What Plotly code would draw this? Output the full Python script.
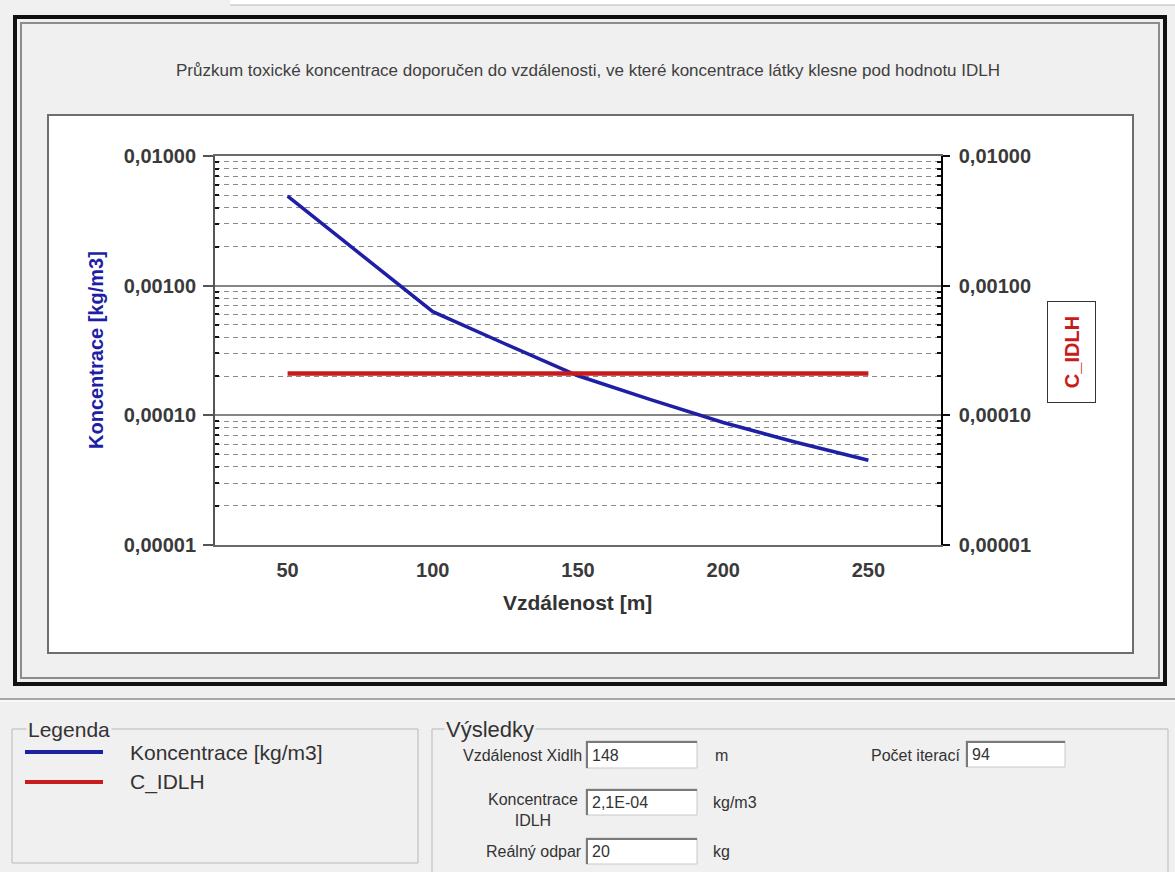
import plotly.graph_objects as go

# ---- data -------------------------------------------------------------
distance_m = [50, 100, 125, 150, 175, 200, 225, 250]
koncentrace = [4.9e-3, 6.3e-4, 3.55e-4, 2.02e-4, 1.32e-4, 8.8e-5, 6.2e-5, 4.5e-5]

idlh_x = [50, 250]
c_idlh = 2.1e-4

y_tick_vals = [1e-5, 1e-4, 1e-3, 1e-2]
y_tick_text = ["0,00001", "0,00010", "0,00100", "0,01000"]
x_tick_vals = [50, 100, 150, 200, 250]
x_tick_text = ["50", "100", "150", "200", "250"]

result_labels = ["Vzdálenost Xidlh", "Počet iterací", "Koncentrace<br>IDLH", "Reálný odpar"]
result_values = ["148", "94", "2,1E-04", "20"]
result_units = ["m", "", "kg/m3", "kg"]

# minor log grid: 2..9 within each decade
minor_vals = [m * 10.0 ** e for e in (-5, -4, -3) for m in range(2, 10)]

# ---- page geometry (pixels) ------------------------------------------
W, H = 1175, 872
L, R, T, B = 215, 941, 156, 545
BG = "#f0f0f0"
FONT = "Liberation Sans"


def px(x):
    return (x - L) / (R - L)


def py(y):
    return (B - y) / (B - T)


def rect(x0, y0, x1, y1, line="#000", width=1, fill=None):
    d = dict(type="rect", xref="paper", yref="paper",
             x0=px(x0), x1=px(x1), y0=py(y1), y1=py(y0),
             line=dict(color=line, width=width), layer="below")
    if fill:
        d["fillcolor"] = fill
    return d


def hline(x0, x1, y, color, width):
    return dict(type="line", xref="paper", yref="paper",
                x0=px(x0), x1=px(x1), y0=py(y), y1=py(y),
                line=dict(color=color, width=width), layer="below")


def vline(x, y0, y1, color, width):
    return dict(type="line", xref="paper", yref="paper",
                x0=px(x), x1=px(x), y0=py(y0), y1=py(y1),
                line=dict(color=color, width=width), layer="below")


def text(x, y, s, size=16, color="#333", xanchor="left", bold=False,
         angle=0, **kw):
    return dict(xref="paper", yref="paper", x=px(x), y=py(y), text=s,
                showarrow=False, xanchor=xanchor, yanchor="middle",
                textangle=angle,
                font=dict(family=FONT, size=size, color=color,
                          weight="bold" if bold else "normal"), **kw)


fig = go.Figure()

fig.add_trace(go.Scatter(
    x=distance_m, y=koncentrace, mode="lines", name="Koncentrace [kg/m3]",
    line=dict(color="#1f1fa6", width=3.5), showlegend=False, yaxis="y"))
fig.add_trace(go.Scatter(
    x=idlh_x, y=[c_idlh] * len(idlh_x), mode="lines", name="C_IDLH",
    line=dict(color="#c81c1c", width=4.5), showlegend=False, yaxis="y2"))

shapes = [
    # window strip at the top
    rect(230, -2, 1180, 5, line="rgba(0,0,0,0)", width=0, fill="#ffffff"),
    hline(230, 1175, 5, "#b8b8b8", 1),
    # outer frame
    rect(15, 17, 1165, 684, line="#111", width=4),
    rect(21, 23, 1159, 678, line="#8c8c8c", width=2),
    # white chart panel
    rect(48, 115, 1133, 653, line="#6e6e6e", width=2, fill="#ffffff"),
    # separator below frame
    hline(0, 1175, 699, "#a8a8a8", 2),
    hline(0, 1175, 701, "#ffffff", 1),
    # group boxes
    rect(12, 729, 418, 863, line="#b9b9b9", width=1),
    rect(432, 729, 1168, 884, line="#b9b9b9", width=1),
    # legend samples
    hline(25, 103, 752, "#1f1fa6", 4),
    hline(25, 103, 782, "#c81c1c", 4),
]

# input fields of the results panel
fields = [(586, 741, 697, 768), (966, 741, 1065, 767),
          (586, 789, 697, 815), (586, 838, 697, 864)]
for (x0, y0, x1, y1) in fields:
    shapes.append(rect(x0, y0, x1, y1, line="#c8c8c8", width=1, fill="#ffffff"))
    shapes.append(hline(x0, x1, y0 + 1, "#7a7a7a", 2))
    shapes.append(vline(x0 + 1, y0, y1, "#7a7a7a", 2))

annotations = [
    text(588, 71, "Průzkum toxické koncentrace doporučen do vzdálenosti, ve které "
         "koncentrace látky klesne pod hodnotu IDLH", size=17, color="#404040",
         xanchor="center"),
    text(96, 350, "Koncentrace [kg/m3]", size=20, color="#1f1fa6",
         xanchor="center", bold=True, angle=-90),
    text(577, 602, "Vzdálenost [m]", size=21, color="#333", xanchor="center",
         bold=True),
    text(1071, 352, "C_IDLH", size=20, color="#c81c1c", xanchor="center",
         bold=True, angle=-90, width=100, height=47, bordercolor="#333",
         borderwidth=1, borderpad=0),
    # group titles
    text(26, 729, "Legenda", size=21, color="#333", bgcolor=BG),
    text(444, 729, "Výsledky", size=22, color="#333", bgcolor=BG),
    text(128, 752, "Koncentrace [kg/m3]", size=21, color="#333"),
    text(128, 782, "C_IDLH", size=21, color="#333"),
]

label_pos = [(584, 755), (962, 755), (580, 810), (584, 851)]
value_pos = [(590, 755), (970, 754), (590, 802), (590, 851)]
unit_pos = [(713, 755), (0, 0), (711, 802), (711, 851)]
for lab, val, unit, lp, vp, up in zip(result_labels, result_values,
                                      result_units, label_pos, value_pos,
                                      unit_pos):
    annotations.append(text(lp[0], lp[1], lab, size=16, color="#333",
                            xanchor="right", align="center"))
    annotations.append(text(vp[0], vp[1], val, size=16, color="#333"))
    if unit:
        annotations.append(text(up[0], up[1], unit, size=16, color="#333"))

tickfont = dict(family=FONT, size=20, color="#3a3a3a", weight="bold")

fig.update_layout(
    width=W, height=H,
    margin=dict(l=L, r=W - R, t=T, b=H - B, pad=0),
    paper_bgcolor=BG, plot_bgcolor="#ffffff",
    showlegend=False,
    shapes=shapes, annotations=annotations,
    xaxis=dict(
        range=[25, 275], tickvals=x_tick_vals, ticktext=x_tick_text,
        ticks="", showgrid=False, zeroline=False,
        showline=True, linecolor="#6a6a6a", linewidth=2, mirror=True,
        tickfont=tickfont, ticklabelstandoff=6,
    ),
    yaxis=dict(
        type="log", range=[-5, -2],
        tickvals=y_tick_vals, ticktext=y_tick_text,
        ticks="outside", ticklen=10, tickwidth=2, tickcolor="#555",
        showline=True, linecolor="#555", linewidth=2, zeroline=False,
        showgrid=True, gridcolor="#858585", gridwidth=2,
        tickfont=tickfont, ticklabelstandoff=3,
        minor=dict(tickvals=minor_vals, ticks="inside", ticklen=4,
                   tickwidth=2, tickcolor="#111", showgrid=True,
                   gridcolor="#8a8a8a", gridwidth=1, griddash="5px,4px"),
    ),
    yaxis2=dict(
        type="log", range=[-5, -2], overlaying="y", side="right", anchor="x",
        tickvals=y_tick_vals, ticktext=y_tick_text,
        ticks="outside", ticklen=7, tickwidth=2, tickcolor="#111",
        showline=True, linecolor="#000", linewidth=1.5, zeroline=False,
        showgrid=False, tickfont=tickfont, ticklabelstandoff=5,
        minor=dict(tickvals=minor_vals, ticks="inside", ticklen=4,
                   tickwidth=2, tickcolor="#111"),
    ),
)

fig.write_html("out.html")
